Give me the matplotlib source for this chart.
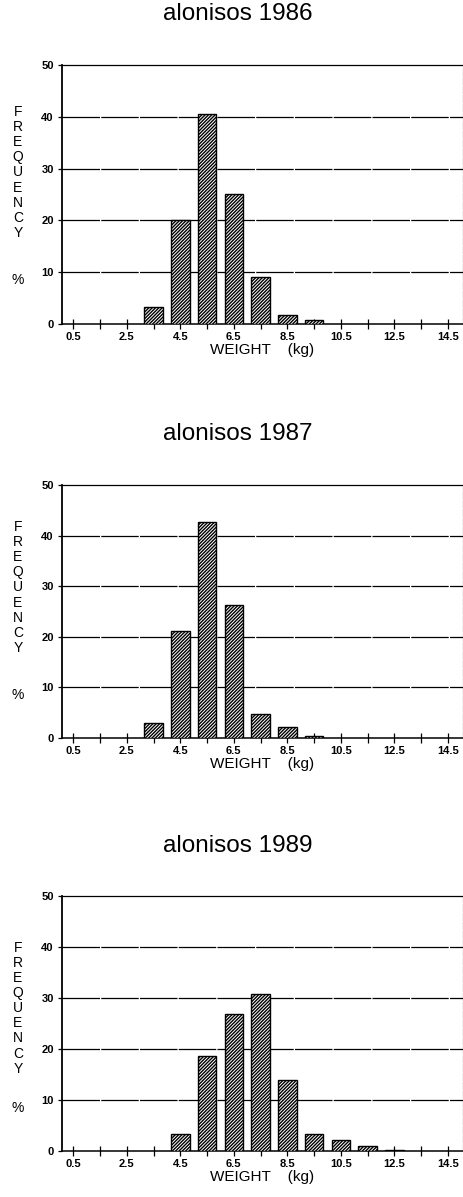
import matplotlib
matplotlib.use("Agg")
import matplotlib.pyplot as plt

plt.rcParams['font.family'] = ['Liberation Sans', 'DejaVu Sans']
plt.rcParams['hatch.linewidth'] = 1.0

# weight classes (kg, bin centres) and frequency (%) per year
titles = ["alonisos 1986", "alonisos 1987", "alonisos 1989"]
weights_1986 = [3.5, 4.5, 5.5, 6.5, 7.5, 8.5, 9.5]
freq_1986 = [3.2, 20.0, 40.6, 25.1, 9.0, 1.8, 0.7]
weights_1987 = [3.5, 4.5, 5.5, 6.5, 7.5, 8.5, 9.5]
freq_1987 = [3.0, 21.1, 42.7, 26.3, 4.7, 2.1, 0.3]
weights_1989 = [4.5, 5.5, 6.5, 7.5, 8.5, 9.5, 10.5, 11.5, 12.5]
freq_1989 = [3.3, 18.7, 26.8, 30.8, 13.9, 3.3, 2.1, 1.0, 0.2]

x_ticks = [0.5, 2.5, 4.5, 6.5, 8.5, 10.5, 12.5, 14.5]
x_tick_labels = ["0.5", "2.5", "4.5", "6.5", "8.5", "10.5", "12.5", "14.5"]
x_minor = [1.5, 3.5, 5.5, 7.5, 9.5, 11.5, 13.5]
y_ticks = [0, 10, 20, 30, 40, 50]

data = [(weights_1986, freq_1986), (weights_1987, freq_1987), (weights_1989, freq_1989)]

W, H = 464, 1197
fig = plt.figure(figsize=(W / 100, H / 100), dpi=100)

# axes boxes in pixels: (top, bottom), title centre y, y-label centre (axes frac)
boxes = [(65, 324), (485, 738), (896, 1151)]
title_y = [14, 434, 846]
ylab_y = [0.585, 0.595, 0.56]
left_px, right_px = 62, 463

for i, (xs, ys) in enumerate(data):
    top, bot = boxes[i]
    ax = fig.add_axes([left_px / W, 1 - bot / H, (right_px - left_px) / W, (bot - top) / H])

    ax.bar(xs, ys, width=0.69, color='white', edgecolor='black',
           hatch='//////////', linewidth=1.0, zorder=3)

    ax.set_xlim(0.08, 15.06)
    ax.set_ylim(0, 50)

    for g in [10, 20, 30, 40]:
        ax.axhline(g, color='black', lw=0.9, ls=(0, (30, 1)), zorder=1)

    ax.set_xticks(x_ticks)
    ax.set_xticklabels(x_tick_labels, fontsize=8, fontweight='bold')
    ax.set_xticks(x_minor, minor=True)
    ax.tick_params(axis='x', which='both', direction='inout', length=7, width=0.9, pad=2)
    ax.set_yticks(y_ticks)
    ax.set_yticklabels([str(v) for v in y_ticks], fontsize=8, fontweight='bold')
    ax.tick_params(axis='y', direction='out', length=3, width=0.9, pad=3)

    ax.spines['left'].set_linewidth(1.3)
    ax.spines['bottom'].set_linewidth(1.1)
    ax.spines['top'].set_linewidth(0.9)
    ax.spines['top'].set_linestyle((0, (30, 1)))
    ax.spines['right'].set_linewidth(0.8)
    ax.spines['right'].set_linestyle((0, (6, 2)))

    ax.set_xlabel("WEIGHT    (kg)", fontsize=11, labelpad=1)

    # stacked y label
    ax.text(-0.11, ylab_y[i], "\n".join("FREQUENCY"), transform=ax.transAxes,
            ha='center', va='center', fontsize=10, linespacing=1.1)
    ax.text(-0.11, 0.17, "%", transform=ax.transAxes,
            ha='center', va='center', fontsize=10)

    fig.text(238 / W, 1 - title_y[i] / H, titles[i], ha='center', va='center', fontsize=17.5)

fig.savefig("out.png", dpi=100)
